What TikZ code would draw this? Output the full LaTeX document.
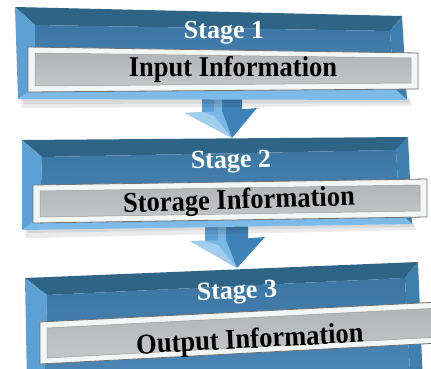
\documentclass[tikz,border=0pt]{standalone}
\usepackage{fontspec}
\setmainfont{Liberation Serif}
\definecolor{bface}{HTML}{4A85B5}
\definecolor{bfacetop}{HTML}{3D76A3}
\definecolor{btop}{HTML}{2E6486}
\definecolor{bleft}{HTML}{5DA0D3}
\definecolor{bright}{HTML}{3F7FAD}
\definecolor{bbottom}{HTML}{7CBBE9}
\definecolor{gface}{HTML}{C3C6C6}
\definecolor{gfacedark}{HTML}{B2B6B6}
\definecolor{gframe}{HTML}{F4F5F5}
\definecolor{gline}{HTML}{707070}
\definecolor{alight}{HTML}{7AB9E7}
\definecolor{adark}{HTML}{3E82B8}
\definecolor{amid}{HTML}{5C9FD4}
\begin{document}
\begin{tikzpicture}[x=1pt,y=-1pt,
  stagelbl/.style={text=white,font=\fontsize{26}{28}\selectfont\bfseries,inner sep=0pt},
  infolbl/.style={text=black,font=\fontsize{26.5}{28}\selectfont\bfseries,inner sep=0pt,yscale=1.08},
  shadowpoly/.style={fill=black,opacity=0.08},
  topbev/.style={fill=btop},
  leftbev/.style={fill=bleft},
  rightbev/.style={fill=bright},
  botbev/.style={fill=bbottom},
  facepoly/.style={top color=bfacetop,bottom color=bface},
  gout/.style={fill=gframe,draw=gline,line width=0.8pt},
  gin/.style={top color=gfacedark,bottom color=gface,draw=gline!70,line width=0.5pt},
  aleft/.style={fill=alight},
  aright/.style={fill=adark},
  amidf/.style={fill=amid}]
\useasboundingbox (0,0) rectangle (431,368);
\fill[white] (0,0) rectangle (431,368);

% ---------- arrow 1 ----------
\coordinate (s1a) at (202,90);
\draw[amidf,draw=none] (202,90) -- (222,90) -- (222,112) -- (202,113) -- cycle;
\draw[aright,draw=none] (222,90) -- (242,90) -- (242,110) -- (222,112) -- cycle;
\draw[fill=bleft!80!white,draw=none] (214,90) -- (222,90) -- (222,111) -- (214,112) -- cycle;
\draw[aleft,draw=none] (185,113) -- (222,111) -- (232,138) -- cycle;
\draw[aright,draw=none] (222,111) -- (257,108) -- (232,138) -- cycle;
\draw[fill=alight!70!white,draw=none] (185,113) -- (202,112) -- (214,116) -- (232,138) -- cycle;
\coordinate (tip1) at (232,138);

% ---------- arrow 2 ----------
\draw[amidf,draw=none] (205,222) -- (226,222) -- (226,241) -- (205,242) -- cycle;
\draw[aright,draw=none] (226,222) -- (248,222) -- (248,239) -- (226,241) -- cycle;
\draw[fill=bleft!80!white,draw=none] (218,222) -- (226,222) -- (226,240) -- (218,241) -- cycle;
\draw[aleft,draw=none] (190,241) -- (226,240) -- (237,268) -- cycle;
\draw[aright,draw=none] (226,240) -- (265,237) -- (237,268) -- cycle;
\draw[fill=alight!70!white,draw=none] (190,241) -- (205,241) -- (218,245) -- (237,268) -- cycle;
\coordinate (tip2) at (237,268);

% ---------- stage 1 ----------
\fill[shadowpoly] (20,98) -- (410,98) -- (412,106) -- (22,108) -- cycle;
\fill[shadowpoly] (22,99) -- (408,99) -- (410,103) -- (24,104) -- cycle;
\coordinate (A1) at (15,7);  \coordinate (B1) at (402,16);
\coordinate (C1) at (407,100); \coordinate (D1) at (18,99);
\coordinate (a1) at (35,25); \coordinate (b1) at (390,31);
\coordinate (c1) at (394,88); \coordinate (d1) at (35,88);
\fill[topbev] (A1) -- (B1) -- (b1) -- (a1) -- cycle;
\fill[leftbev] (A1) -- (a1) -- (d1) -- (D1) -- cycle;
\fill[rightbev] (B1) -- (C1) -- (c1) -- (b1) -- cycle;
\fill[botbev] (D1) -- (d1) -- (c1) -- (C1) -- cycle;
\shade[facepoly] (a1) -- (b1) -- (c1) -- (d1) -- cycle;
\draw[gout] (28,47) -- (418,53) -- (418,89) -- (28,92) -- cycle;
\shade[gin] (35,53) -- (411,58) -- (411,83) -- (35,86) -- cycle;
\node[stagelbl] (st1) at (224,33) {Stage 1};
\node[infolbl] (in1) at (233,69) {Input Information};

% ---------- stage 2 ----------
\fill[shadowpoly] (24,228) -- (414,222) -- (416,230) -- (26,238) -- cycle;
\fill[shadowpoly] (26,229) -- (412,223) -- (414,227) -- (28,233) -- cycle;
\coordinate (A2) at (22,140);  \coordinate (B2) at (408,137);
\coordinate (C2) at (412,224); \coordinate (D2) at (22,230);
\coordinate (a2) at (42,157); \coordinate (b2) at (396,150);
\coordinate (c2) at (400,213); \coordinate (d2) at (40,218);
\fill[topbev] (A2) -- (B2) -- (b2) -- (a2) -- cycle;
\fill[leftbev] (A2) -- (a2) -- (d2) -- (D2) -- cycle;
\fill[rightbev] (B2) -- (C2) -- (c2) -- (b2) -- cycle;
\fill[botbev] (D2) -- (d2) -- (c2) -- (C2) -- cycle;
\shade[facepoly] (a2) -- (b2) -- (c2) -- (d2) -- cycle;
\draw[gout] (33,185) -- (427,179) -- (427,217) -- (33,223) -- cycle;
\shade[gin] (40,191) -- (420,185) -- (420,211) -- (40,217) -- cycle;
\node[stagelbl,rotate=1] (st2) at (231,162) {Stage 2};
\node[infolbl,rotate=1.7] (in2) at (239,202) {Storage Information};

% ---------- stage 3 ----------
\coordinate (A3) at (25,278);  \coordinate (B3) at (418,262);
\coordinate (C3) at (423,385); \coordinate (D3) at (27,385);
\coordinate (a3) at (47,295); \coordinate (b3) at (405,278);
\coordinate (c3) at (410,372); \coordinate (d3) at (45,372);
\fill[topbev] (A3) -- (B3) -- (b3) -- (a3) -- cycle;
\fill[leftbev] (A3) -- (a3) -- (d3) -- (D3) -- cycle;
\fill[rightbev] (B3) -- (C3) -- (c3) -- (b3) -- cycle;
\fill[botbev] (D3) -- (d3) -- (c3) -- (C3) -- cycle;
\shade[facepoly] (a3) -- (b3) -- (c3) -- (d3) -- cycle;
\draw[gout] (40,322) -- (440,302) -- (440,343) -- (40,364) -- cycle;
\shade[gin] (47,328) -- (440,308) -- (440,337) -- (47,358) -- cycle;
\node[stagelbl,rotate=2] (st3) at (237,293) {Stage 3};
\node[infolbl,rotate=2.8] (in3) at (250,341) {Output Information};
\end{tikzpicture}
\end{document}
